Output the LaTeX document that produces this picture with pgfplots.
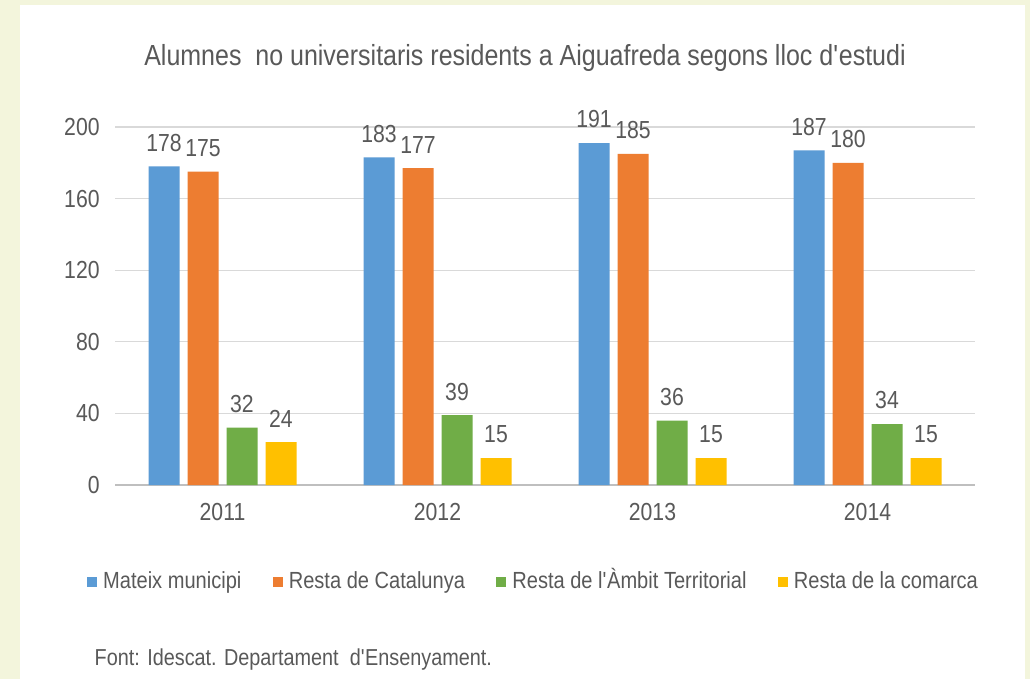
\documentclass[border=0pt]{standalone}
\usepackage{pgfplots}
\pgfplotsset{compat=1.18}
\usepackage{fontspec}
\setmainfont{Liberation Sans}[FakeStretch=0.86]

\definecolor{cBlue}{HTML}{5B9BD5}
\definecolor{cOrange}{HTML}{ED7D31}
\definecolor{cGreen}{HTML}{70AD47}
\definecolor{cYellow}{HTML}{FFC000}
\definecolor{cText}{HTML}{595959}
\definecolor{cGrid}{HTML}{D9D9D9}
\definecolor{cAxis}{HTML}{BFBFBF}
\definecolor{cCream}{HTML}{F3F5DC}

\pgfplotstableread{
x mateix resta ambit comarca
0 178 175 32 24
1 183 177 39 15
2 191 185 36 15
3 187 180 34 15
}\alumnes

\begin{document}
\begin{tikzpicture}
  % page: 1030 x 679 px, 1px = 0.75pt
  \fill[cCream] (0pt,0pt) rectangle (772.5pt,509.25pt);
  \fill[white] (15pt,0pt) rectangle (768.75pt,505.5pt);

  \node[text=cText,font=\fontsize{21.8}{26}\selectfont] at (393.75pt,465.75pt)
    {Alumnes\ \ no universitaris residents a Aiguafreda segons lloc d\textquotesingle estudi};

  \begin{axis}[
    at={(86.25pt,145.5pt)}, anchor=south west,
    scale only axis, width=645pt, height=268.5pt,
    xmin=-0.5, xmax=3.5, ymin=0, ymax=200,
    ybar=6pt, bar width=23.25pt,
    xtick=data, xticklabels={2011,2012,2013,2014},
    ytick={0,40,...,200},
    major tick length=0pt,
    ymajorgrids, grid style={cGrid,line width=1pt},
    axis x line*=bottom, axis y line*=left,
    y axis line style={draw=none},
    x axis line style={draw=cAxis,line width=1pt},
    tick label style={text=cText,font=\fontsize{18.5}{22}\selectfont},
    /pgf/number format/assume math mode=true,
    yticklabel style={xshift=-8pt},
    xticklabel style={yshift=-10pt},
    nodes near coords,
    every node near coord/.append style={text=cText,font=\fontsize{18.5}{22}\selectfont,inner sep=0pt,yshift=11pt},
    legend columns=4,
    legend style={at={(0.489,-0.272)},anchor=center,draw=none,fill=none,
      text=cText,font=\fontsize{17.5}{21}\selectfont,
      nodes={text height=12pt,text depth=3pt,inner xsep=4.5pt},
      /tikz/every even column/.append style={column sep=19pt}},
    legend image code/.code={\fill[#1] (0pt,-3.75pt) rectangle (7.5pt,3.75pt);},
    legend cell align=left,
  ]
    \addplot[fill=cBlue,draw=none] table[x=x,y=mateix] {\alumnes};
    \addplot[fill=cOrange,draw=none] table[x=x,y=resta] {\alumnes};
    \addplot[fill=cGreen,draw=none] table[x=x,y=ambit] {\alumnes};
    \addplot[fill=cYellow,draw=none] table[x=x,y=comarca] {\alumnes};
    \legend{Mateix municipi,Resta de Catalunya,Resta de l\textquotesingle Àmbit Territorial,Resta de la comarca}
  \end{axis}

  \node[anchor=west,text=cText,font=\fontsize{17.3}{20}\selectfont] at (67.5pt,14.25pt)
    {Font: Idescat. Departament\ \ d\textquotesingle Ensenyament.};
\end{tikzpicture}
\end{document}
